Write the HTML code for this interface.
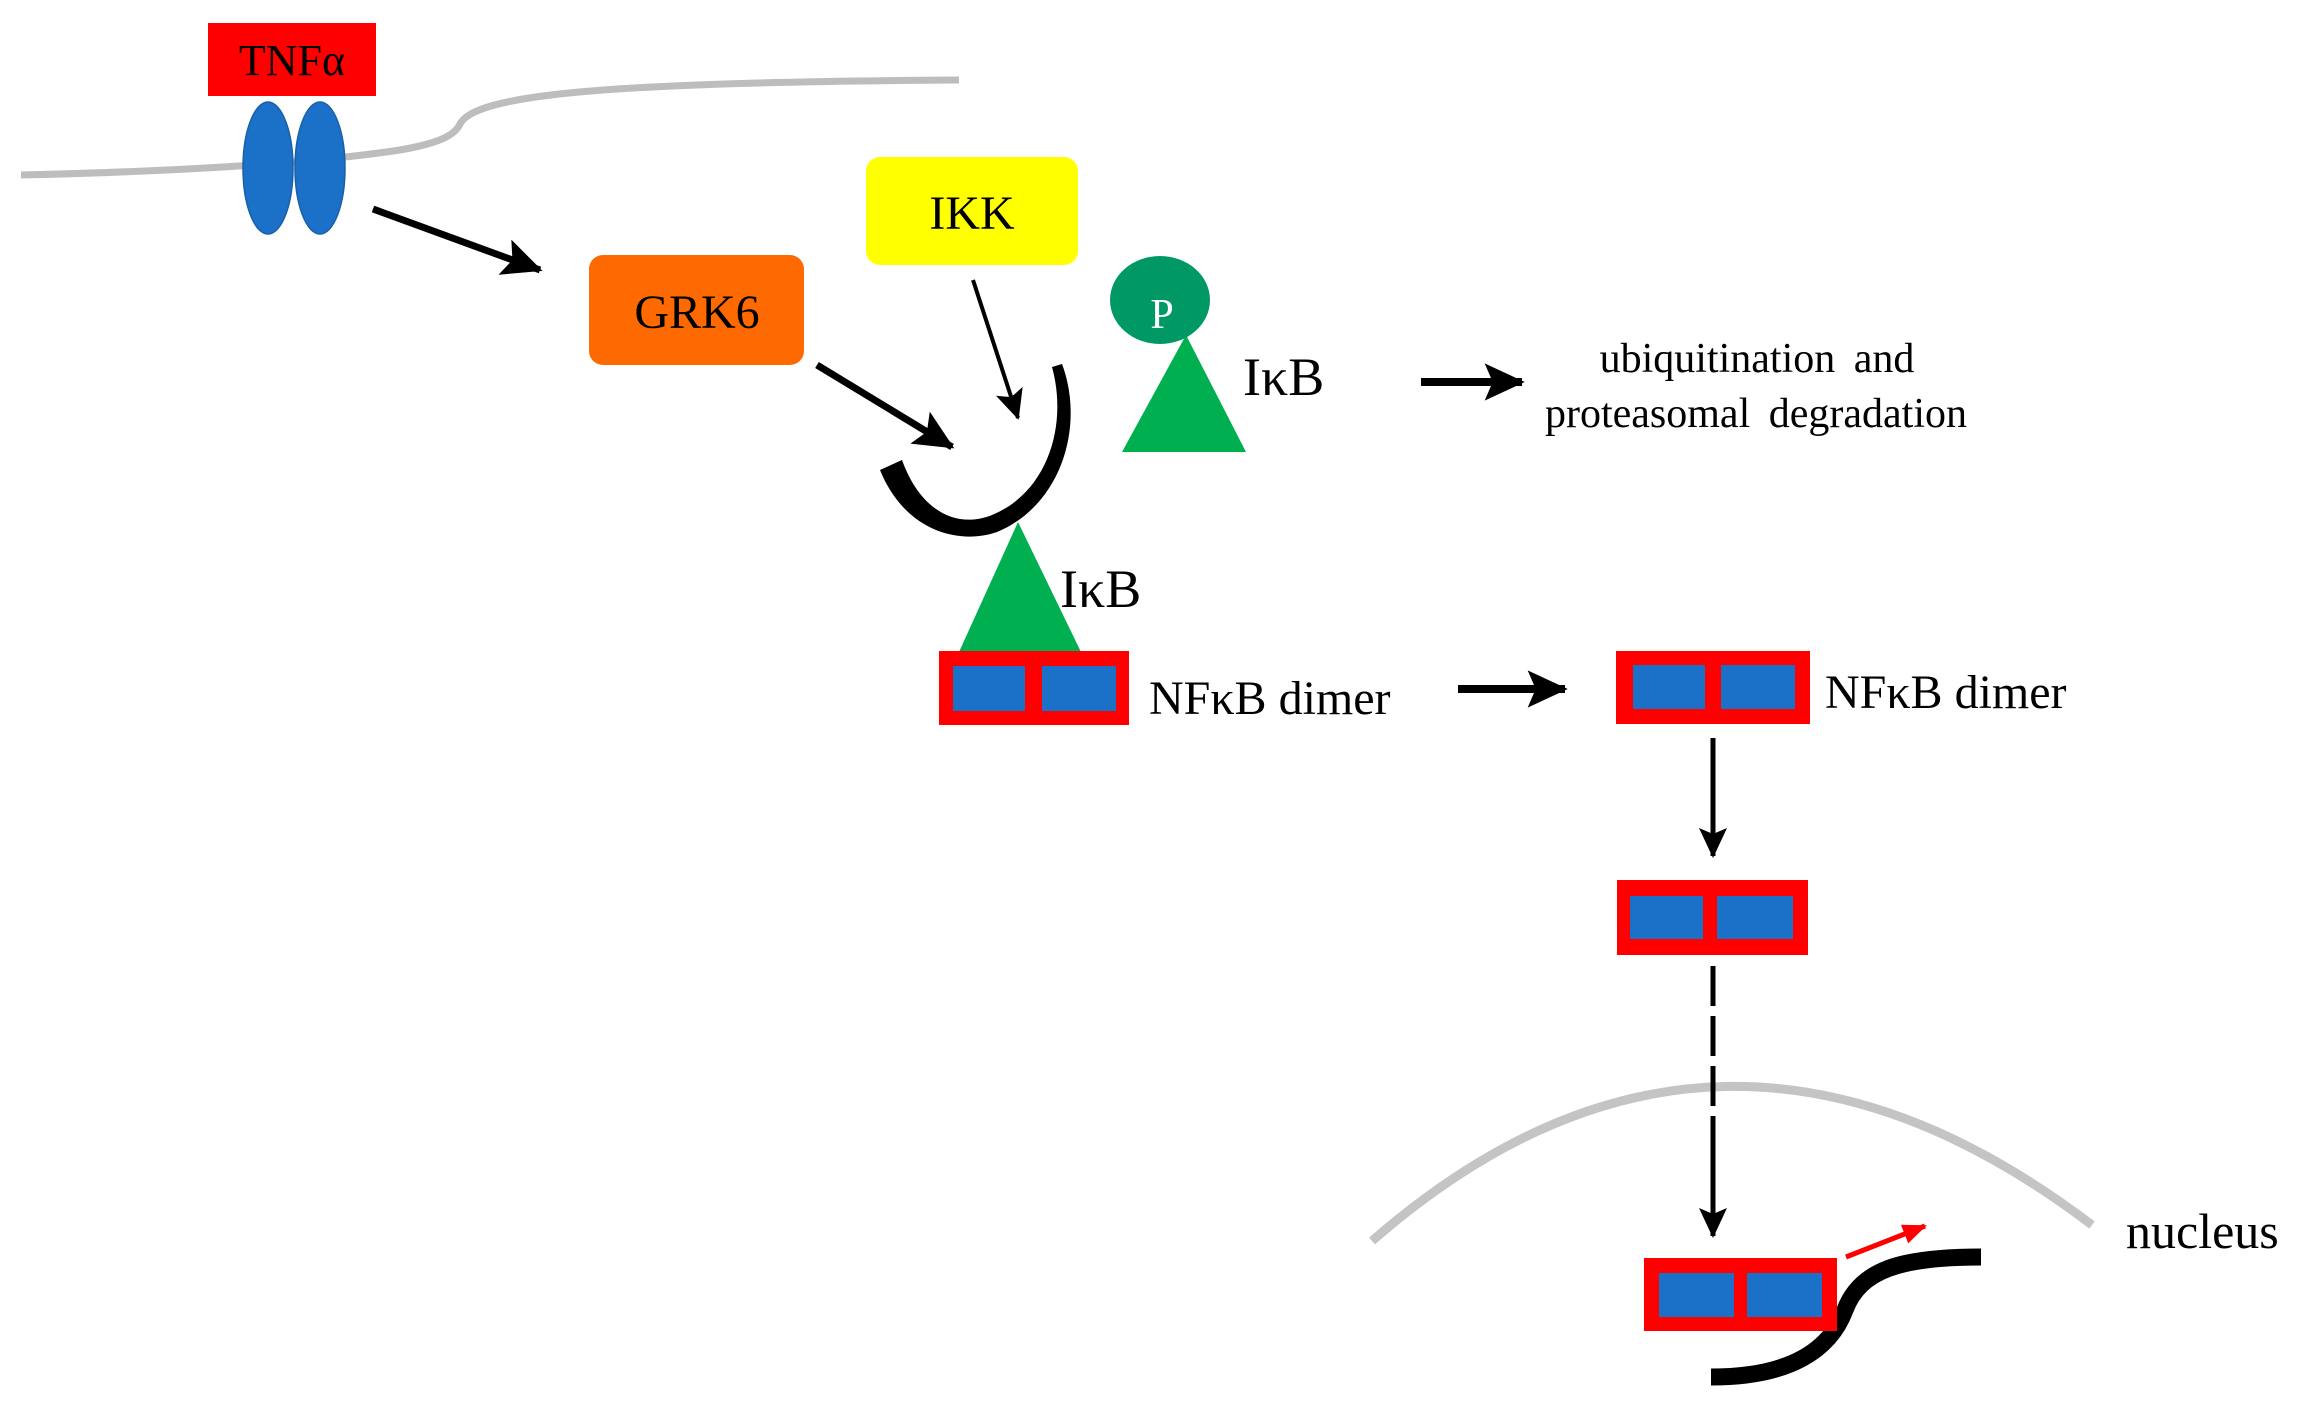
<!DOCTYPE html>
<html><head><meta charset="utf-8"><style>
html,body{margin:0;padding:0;background:#fff;}
svg{display:block;}
svg text{font-family:"Liberation Serif","DejaVu Serif",serif;}
</style></head><body>
<svg width="2322" height="1410" viewBox="0 0 2322 1410" xmlns="http://www.w3.org/2000/svg" font-family="Liberation Serif, serif">
<defs>
<marker id="ah" markerUnits="userSpaceOnUse" markerWidth="40" markerHeight="40" refX="28" refY="14" orient="auto" viewBox="0 0 30 28">
<path d="M0,0 L30,14 L0,28 L6,14 Z" fill="#000"/>
</marker>
<marker id="ahs" markerUnits="userSpaceOnUse" markerWidth="30" markerHeight="30" refX="28" refY="14" orient="auto" viewBox="0 0 30 28">
<path d="M0,0 L30,14 L0,28 L6,14 Z" fill="#000"/>
</marker>
<marker id="ahr" markerUnits="userSpaceOnUse" markerWidth="24" markerHeight="24" refX="22" refY="10" orient="auto" viewBox="0 0 24 20">
<path d="M0,0 L24,10 L0,20 Z" fill="#f00"/>
</marker>
</defs>

<path d="M21,175 C150,172 300,165 400,150 C440,143 455,135 460,124 C475,95 600,82 959,80" fill="none" stroke="#bdbdbd" stroke-width="7"/>

<rect x="208" y="23" width="168" height="73" fill="#ff0000"/>
<text x="292" y="75" font-size="44" text-anchor="middle" font-family="Liberation Serif, serif">TNFα</text>
<ellipse cx="268" cy="168" rx="25" ry="66" fill="#1b70c8" stroke="#1a5fa8" stroke-width="1.5"/>
<ellipse cx="320" cy="168" rx="25" ry="66" fill="#1b70c8" stroke="#1a5fa8" stroke-width="1.5"/>

<line x1="373" y1="209" x2="540" y2="270" stroke="#000" stroke-width="7" marker-end="url(#ah)"/>
<line x1="817" y1="365" x2="952" y2="447" stroke="#000" stroke-width="7" marker-end="url(#ah)"/>
<line x1="973" y1="280" x2="1018" y2="418" stroke="#000" stroke-width="4" marker-end="url(#ahs)"/>

<rect x="589" y="255" width="215" height="110" rx="14" fill="#ff6a00"/>
<text x="697" y="328" font-size="48" text-anchor="middle" font-family="Liberation Serif, serif">GRK6</text>

<rect x="866" y="157" width="212" height="108" rx="14" fill="#ffff00"/>
<text x="972" y="229" font-size="48" text-anchor="middle" font-family="Liberation Serif, serif">IKK</text>

<path d="M880,470 C905,532 960,545 997,532 C1062,505 1085,425 1062,364 L1052,367 C1068,425 1048,492 992,515 C960,528 922,515 902,460 Z" fill="#000"/>

<polygon points="1186,335 1122,452 1246,452" fill="#00b050"/>
<ellipse cx="1160" cy="300" rx="50" ry="44" fill="#009966"/>
<text x="1162" y="328" font-size="42" text-anchor="middle" fill="#fff" font-family="Liberation Serif, serif">P</text>
<text x="1243" y="395" font-size="54" font-family="Liberation Serif, serif">IκB</text>

<line x1="1421" y1="382" x2="1522" y2="382" stroke="#000" stroke-width="8" marker-end="url(#ah)"/>
<text x="1757" y="372" font-size="42" text-anchor="middle" word-spacing="8" font-family="Liberation Serif, serif">ubiquitination and</text>
<text x="1756" y="427" font-size="42" text-anchor="middle" word-spacing="8" font-family="Liberation Serif, serif">proteasomal degradation</text>

<polygon points="1018,522 959,652 1081,652" fill="#00b050"/>
<text x="1060" y="607" font-size="54" font-family="Liberation Serif, serif">IκB</text>
<rect x="939" y="651" width="190" height="74" fill="#ff0000"/>
<rect x="953" y="666" width="72" height="45" fill="#1b70c8"/>
<rect x="1042" y="666" width="74" height="45" fill="#1b70c8"/>
<text x="1149" y="714" font-size="48" font-family="Liberation Serif, serif">NFκB dimer</text>

<line x1="1458" y1="689" x2="1565" y2="689" stroke="#000" stroke-width="8" marker-end="url(#ah)"/>

<rect x="1616" y="651" width="194" height="73" fill="#ff0000"/>
<rect x="1633" y="665" width="72" height="44" fill="#1b70c8"/>
<rect x="1721" y="665" width="74" height="44" fill="#1b70c8"/>
<text x="1825" y="708" font-size="48" font-family="Liberation Serif, serif">NFκB dimer</text>

<line x1="1713" y1="738" x2="1713" y2="856" stroke="#000" stroke-width="5" marker-end="url(#ahs)"/>

<rect x="1617" y="880" width="191" height="75" fill="#ff0000"/>
<rect x="1630" y="896" width="73" height="43" fill="#1b70c8"/>
<rect x="1717" y="896" width="76" height="43" fill="#1b70c8"/>

<path d="M1372,1241 Q1717,940 2092,1225" fill="none" stroke="#c4c4c4" stroke-width="9"/>
<text x="2126" y="1248" font-size="50" font-family="Liberation Serif, serif">nucleus</text>

<line x1="1713" y1="966" x2="1713" y2="1120" stroke="#000" stroke-width="5" stroke-dasharray="40 10"/>
<line x1="1713" y1="1118" x2="1713" y2="1236" stroke="#000" stroke-width="5" marker-end="url(#ahs)"/>

<path d="M1711,1377 C1790,1377 1830,1350 1845,1310 C1860,1270 1900,1257 1981,1257" fill="none" stroke="#000" stroke-width="17"/>

<rect x="1644" y="1258" width="193" height="73" fill="#ff0000"/>
<rect x="1659" y="1273" width="75" height="44" fill="#1b70c8"/>
<rect x="1747" y="1273" width="75" height="44" fill="#1b70c8"/>

<line x1="1846" y1="1257" x2="1925" y2="1226" stroke="#f00" stroke-width="5" marker-end="url(#ahr)"/>
</svg>
</body></html>
